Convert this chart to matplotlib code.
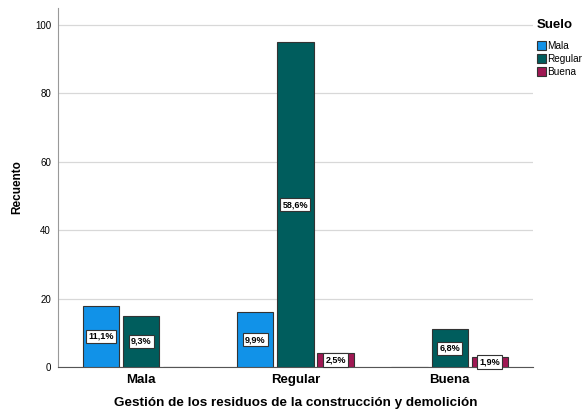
import numpy as np
import matplotlib.pyplot as plt

plt.rcParams['font.family'] = ['Liberation Sans', 'DejaVu Sans']

# Counts per category of "Gestión de los residuos..." split by "Suelo"
categories = ['Mala', 'Regular', 'Buena']
series = ['Mala', 'Regular', 'Buena']
mala = [18, 16, 0]
regular = [15, 95, 11]
buena = [0, 4, 3]
pct_mala = ['11,1%', '9,9%', '']
pct_regular = ['9,3%', '58,6%', '6,8%']
pct_buena = ['', '2,5%', '1,9%']

colors = ['#1192e8', '#005d5d', '#9f1853']

fig = plt.figure(figsize=(5.85, 4.12), dpi=100)
ax = fig.add_axes([0.099, 0.109, 0.812, 0.872])

x = np.arange(len(categories))
width = 0.235
offset = 0.26
values = [mala, regular, buena]
labels = [pct_mala, pct_regular, pct_buena]

for i, (vals, labs, name) in enumerate(zip(values, labels, series)):
    pos = x + (i - 1) * offset
    ax.bar(pos, vals, width, color=colors[i], edgecolor='#333333',
           linewidth=0.8, label=name, zorder=3)
    for p, v, lab in zip(pos, vals, labs):
        if v <= 0:
            continue
        ax.text(p, v / 2, lab, ha='center', va='center', fontsize=6.5,
                fontweight='bold', zorder=5,
                bbox=dict(boxstyle='square,pad=0.25', facecolor='white',
                          edgecolor='#333333', linewidth=0.8))

ax.set_xlim(-0.54, 2.54)
ax.set_ylim(0, 105)
ax.set_yticks(range(0, 101, 20))
ax.set_xticks(x)
ax.set_xticklabels(categories, fontsize=9.5, fontweight='bold')
ax.tick_params(axis='y', labelsize=7, length=0, pad=5)
ax.tick_params(axis='x', length=0, pad=5)
ax.yaxis.grid(True, color='#d8d8d8', linewidth=0.9, zorder=0)
ax.set_axisbelow(True)

for s in ['top', 'right']:
    ax.spines[s].set_visible(False)
ax.spines['left'].set_color('#999999')
ax.spines['bottom'].set_color('#555555')

ax.set_ylabel('Recuento', fontsize=8.5, fontweight='bold', labelpad=8)
ax.set_xlabel('Gestión de los residuos de la construcción y demolición',
              fontsize=9.7, fontweight='bold', labelpad=8)

leg = ax.legend(title='Suelo', loc='upper left', bbox_to_anchor=(0.995, 0.985),
                frameon=False, fontsize=7.2, handlelength=0.9, handleheight=0.9,
                handletextpad=0.15, labelspacing=0.3, borderaxespad=0.3,
                borderpad=0.3)
leg.get_title().set_fontweight('bold')
leg.get_title().set_fontsize(9.5)
leg._legend_box.align = 'left'
leg._legend_box.sep = 7

fig.savefig('out.png', dpi=100)
